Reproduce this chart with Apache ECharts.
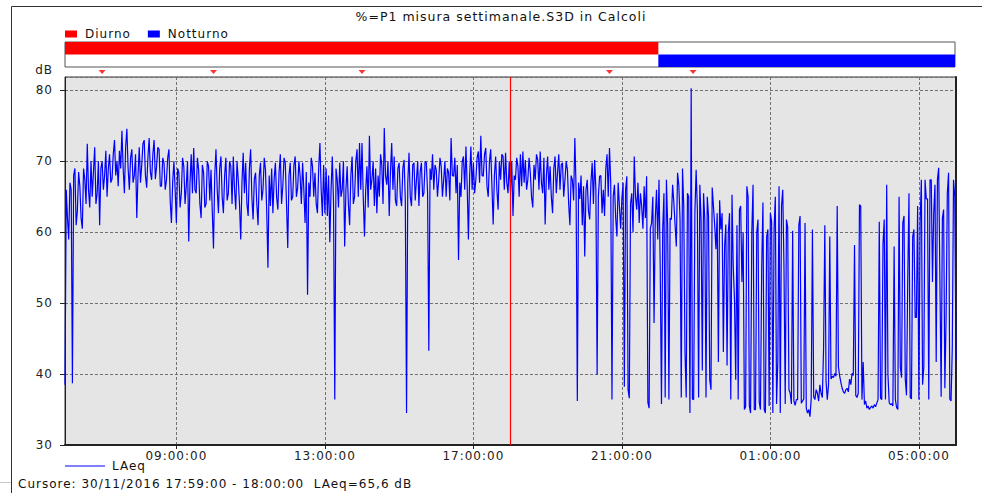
<!DOCTYPE html>
<html>
<head>
<meta charset="utf-8">
<title>P1 misura settimanale</title>
<script src="https://cdn.jsdelivr.net/npm/echarts@6/dist/echarts.min.js"></script>
<style>
  html, body { margin: 0; padding: 0; background: #fff; }
  #main { width: 982px; height: 493px; letter-spacing: 1px; }
</style>
</head>
<body>
<div id="main"></div>
<script>
// LAeq ogni 2 minuti, dalle 06:00 del 30/11 alle 06:00 del 01/12 (30 campioni per ora)
var h06 = [38.5, 66, 62, 59, 67, 66, 38.7, 68, 69, 61, 63, 68.5, 66.5, 62, 60.5, 69, 67.5, 64, 72.5, 66, 63.5, 70, 65, 68.5, 72, 64, 65.5, 70, 61, 69];
var h07 = [70, 66, 68, 71.5, 65, 69, 71, 67, 67.5, 71, 73, 68, 70, 66.5, 71.5, 69, 74.3, 69, 65.5, 72, 74.6, 69, 66, 70.5, 71.7, 67, 68, 71, 62, 68];
var h08 = [72, 67, 69.5, 72.5, 73, 68, 66.3, 70.5, 73.3, 68.5, 67.4, 71, 73, 67.5, 69.3, 72, 71.7, 66.5, 66.5, 70.5, 69.8, 66, 67.4, 70.5, 71.7, 64.5, 61.3, 67, 70, 66];
var h09 = [61.3, 69, 68.4, 63.5, 65.5, 70.5, 69.3, 64, 66.5, 70, 58.7, 67, 71, 65.5, 71.9, 66, 65.5, 70.5, 68.8, 64, 62, 69.5, 68.4, 63.5, 64, 70, 69.3, 64.5, 68.8, 63];
var h10 = [57.7, 68, 71.7, 66, 62.7, 69, 70.7, 65, 62.7, 68, 70.5, 64.5, 65.5, 70, 69.3, 64, 70.7, 66, 63.2, 70, 67.4, 64, 59, 67, 71.2, 65.5, 69.8, 64, 62.3, 69];
var h11 = [71.7, 65, 61.8, 67.5, 68.4, 64, 61, 68, 69.8, 64.5, 66, 70.5, 68.8, 63, 55, 68, 63.7, 69, 62.7, 67.5, 69.8, 65, 63.2, 68.5, 71, 64, 66.5, 70.5, 69.8, 64];
var h12 = [57.8, 68, 69.8, 64.5, 65, 69.5, 70.7, 65, 66.3, 70, 67.9, 64, 69.8, 66, 61.3, 68.5, 51.2, 67, 65, 70.5, 69.3, 65, 68.4, 64, 62.7, 69, 72.6, 66, 62.3, 69.5];
var h13 = [62.7, 69, 62.3, 68, 58.6, 66, 70.7, 64, 36.4, 69, 67.4, 63.5, 69.8, 65, 66, 70, 58, 66, 69.3, 64, 61, 68, 70.7, 64, 65, 70, 71.7, 65, 72.6, 66];
var h14 = [72.6, 65, 59.4, 66, 69.3, 63.5, 73.6, 66, 67.4, 70, 63.7, 69, 62.7, 68, 65, 71, 69.5, 64, 74.7, 68, 66.7, 70, 62.3, 68.5, 72.6, 66, 70.7, 64.5, 63.7, 69];
var h15 = [69.8, 65, 63.7, 69, 70.2, 64.5, 34.5, 67, 71.2, 65, 63.7, 69.5, 69.8, 64.5, 67.4, 70, 63.7, 68.5, 69.8, 65, 65.5, 70, 69.8, 65.5, 43.3, 69, 67.4, 71, 66, 69.5];
var h16 = [68.8, 65, 67.4, 70.5, 69.3, 65, 67.4, 70, 65, 69, 68.4, 64.5, 73.3, 68, 67.9, 70.5, 65.5, 69.5, 56.1, 67, 65, 70, 70.7, 66, 72.1, 66.5, 59, 68, 72.1, 66];
var h17 = [69.8, 65.5, 67.4, 70.5, 71.4, 67, 73.6, 68, 67.9, 71, 71.9, 66.5, 65, 70, 71.7, 66.5, 61.1, 68, 70.7, 66, 63.2, 70, 67.4, 71, 70.7, 66, 71.2, 67, 65.5, 70];
var h18 = [65.6, 70, 62.3, 68, 67.4, 70.5, 69.3, 65, 71, 66.5, 71.4, 67, 70.2, 66, 67.4, 70.5, 68.4, 65, 63.5, 69.5, 67.4, 71, 70.2, 66, 71.4, 67, 65.5, 70.5, 61.1, 68];
var h19 = [70.7, 66, 69.3, 65, 62.7, 69, 70.7, 65.5, 68.4, 71, 66, 69.5, 69.8, 65, 67.4, 70, 68.8, 64, 61, 68, 67.4, 64.5, 73.3, 66, 36.2, 67, 64.7, 68, 61, 66.5];
var h20 = [56.6, 66, 67.4, 63, 61.8, 67, 69.8, 64, 70.2, 66, 39.9, 65, 67.9, 68, 62.7, 66, 62.3, 69, 71, 65, 71.9, 67, 36.4, 65, 66.7, 62, 59.4, 67, 63.7, 60.5];
var h21 = [64.7, 67, 38.2, 66, 67.9, 37.8, 36.6, 64, 65.5, 60, 70.7, 65, 63.2, 67, 61.3, 65.5, 63.7, 60.5, 66.5, 62, 67.9, 36, 35.2, 60.5, 61.3, 65, 47.2, 62, 66, 59];
var h22 = [67.4, 54.7, 35.8, 60.4, 65.5, 36.7, 67.4, 61, 36.4, 62, 61.8, 66.7, 64.2, 61, 58, 68.4, 66.7, 61.8, 36.7, 69, 63.7, 43.1, 36.7, 65.5, 65, 34.5, 80.3, 36.5, 36.4, 62.7];
var h23 = [68.8, 63.2, 36.7, 66.7, 61.8, 40.5, 65.5, 61.8, 36.7, 65, 62.3, 39.2, 37.8, 66.3, 63.7, 61, 57.6, 62.7, 41.7, 64.5, 60.4, 62.7, 43.1, 58, 61.1, 41.2, 60, 62.7, 36.4, 65.3];
var h00 = [55.1, 50.5, 39.2, 61, 36.4, 63.2, 63.7, 53, 60, 35, 35.4, 66.5, 65, 35.5, 34.5, 60, 66.7, 35, 35, 60, 61.8, 36, 35, 55.1, 64.2, 35, 34.5, 59.4, 60.4, 35.5];
var h01 = [62.7, 61.5, 34.5, 60.5, 65, 35.8, 41.7, 66.5, 34.5, 63.7, 66, 55, 35.8, 61.8, 60.7, 37.8, 37.3, 35.8, 60.2, 36.2, 35.6, 36.4, 36.4, 61, 62.3, 35.9, 36.2, 36.5, 61.3, 35.2];
var h02 = [34.5, 35, 34, 36.5, 60.4, 36.8, 36.4, 37.8, 37.3, 36.2, 38.5, 37.3, 36.7, 43.7, 61, 39, 36.4, 38.5, 59.4, 39.3, 39.7, 39.5, 40.1, 39.7, 63.7, 41, 39.7, 38.8, 38, 37.5];
var h03 = [37.3, 37.8, 38, 37.5, 39.3, 38.5, 40.1, 39.8, 58.2, 37, 36.7, 37.3, 63.9, 63.7, 36.4, 41.7, 35.7, 36.2, 35.2, 35.5, 35, 35.3, 35.5, 35.2, 35.7, 35.4, 35.9, 36.4, 61.5, 36.6];
var h04 = [36.4, 58.3, 61.8, 36.4, 66.7, 40, 36, 35.7, 35.8, 35.5, 58, 36.4, 35.3, 35, 65, 41, 39.5, 61.3, 62.3, 39.3, 37, 53.3, 65.5, 36.7, 36.5, 59.4, 60.4, 48, 48, 63.7];
// l'ultimo valore e' quello delle 06:00 del 01/12
var h05 = [36.4, 61.3, 67.4, 38.5, 41, 67.4, 64.7, 64.7, 36.4, 67.4, 67.4, 53, 62.7, 66.7, 41.7, 67.4, 69.1, 53.3, 36.8, 62, 63.2, 38, 48, 65.5, 68.4, 36.5, 36.2, 43.7, 67.4, 65, 42];

var startHour = 6;
var stepMin = 2;

var tickHours = [9, 13, 17, 21, 25, 29];
var tickLabels = ['09:00:00', '13:00:00', '17:00:00', '21:00:00', '01:00:00', '05:00:00'];

var periodNames = ['Diurno', 'Notturno'];
var periodStart = [6, 22];
var periodEnd = [22, 30];

var markerHours = [7, 10, 14, 20 + 40 / 60, 22 + 55 / 60];

var cursorHour = 18;
var cursorText = 'Cursore: 30/11/2016 17:59:00 - 18:00:00  LAeq=65,6 dB';

// asse x in ore contate dalle 01:00 del 30/11: cosi' 09:00 -> 8 e le tacche ogni 4 ore cadono su 09, 13, 17...
function toX(hour) {
  return hour - 1;
}

function initChart(dom) {
  var chart = echarts.init(dom, null, { renderer: 'svg', width: 982, height: 493 });

  var laeq = [].concat(h06, h07, h08, h09, h10, h11, h12, h13, h14, h15, h16, h17,
    h18, h19, h20, h21, h22, h23, h00, h01, h02, h03, h04, h05);
  var points = laeq.map(function (v, i) {
    return [toX(startHour + i * stepMin / 60), v];
  });

  var font = 'DejaVu Sans';
  var gridColor = '#707070';

  function bandItem(params, api) {
    var p0 = api.coord([api.value(0), api.value(2)]);
    var p1 = api.coord([api.value(1), api.value(2)]);
    var h = api.size([0, 1])[1];
    return {
      type: 'rect',
      shape: { x: p0[0], y: p0[1] - h / 2, width: p1[0] - p0[0], height: h },
      style: { fill: api.visual('color') }
    };
  }

  var option = {
    animation: false,
    textStyle: { fontFamily: font, fontSize: 12, color: '#222' },
    title: {
      text: '%=P1 misura settimanale.S3D in Calcoli',
      left: 496,
      textAlign: 'center',
      top: 5,
      textStyle: { fontFamily: font, fontSize: 12.5, fontWeight: 'normal', color: '#111' }
    },
    legend: [
      {
        data: [{ name: periodNames[0], icon: 'rect' }, { name: periodNames[1], icon: 'rect' }],
        left: 65,
        top: 28,
        padding: 0,
        itemWidth: 12,
        itemHeight: 7,
        itemGap: 23,
        selectedMode: false,
        textStyle: { fontFamily: font, fontSize: 12, color: '#111', padding: [0, 0, 0, 3] }
      },
      {
        data: [{ name: 'LAeq', icon: 'rect', itemStyle: { color: '#7f7fff' } }],
        left: 65,
        top: 460,
        padding: 0,
        itemWidth: 40,
        itemHeight: 2,
        selectedMode: false,
        textStyle: { fontFamily: font, fontSize: 12, color: '#111', padding: [0, 0, 0, 2] }
      }
    ],
    grid: [
      { left: 65, right: 26, top: 77, bottom: 48, show: true, backgroundColor: '#e5e5e5', borderColor: '#333', borderWidth: 1 },
      { left: 65, right: 27, top: 42, height: 25, show: true, backgroundColor: '#fff', borderColor: '#555', borderWidth: 1 },
      { left: 65, right: 26, top: 68, height: 8 }
    ],
    xAxis: [
      {
        gridIndex: 0,
        type: 'value',
        min: toX(6),
        max: toX(30),
        minInterval: 4,
        maxInterval: 4,
        axisLine: { lineStyle: { color: '#222', width: 2 } },
        axisTick: { length: 4, lineStyle: { color: '#222' } },
        axisLabel: {
          margin: 5,
          color: '#222',
          showMinLabel: false,
          showMaxLabel: false,
          formatter: function (v) {
            var i = tickHours.indexOf(Math.round(v + 1));
            return i < 0 ? '' : tickLabels[i];
          }
        },
        splitLine: { show: true, lineStyle: { color: gridColor, type: [3, 2] } }
      },
      { gridIndex: 1, type: 'value', min: toX(6), max: toX(30), show: false },
      { gridIndex: 2, type: 'value', min: toX(6), max: toX(30), show: false }
    ],
    yAxis: [
      {
        gridIndex: 0,
        type: 'value',
        min: 30,
        max: 81.9,
        interval: 10,
        name: 'dB',
        nameLocation: 'end',
        nameGap: 1,
        nameTextStyle: { align: 'right', padding: [0, 12, 0, 0], color: '#222', fontFamily: font, fontSize: 12 },
        axisLine: { show: true, lineStyle: { color: '#222' } },
        axisTick: { show: true, length: 5, lineStyle: { color: '#222' } },
        axisLabel: { margin: 12, color: '#222', showMaxLabel: false },
        splitLine: { show: true, lineStyle: { color: gridColor, type: [3, 2] } }
      },
      {
        gridIndex: 0,
        type: 'value',
        position: 'right',
        min: 30,
        max: 81.9,
        axisLine: { show: true, lineStyle: { color: '#222', width: 2 } },
        axisTick: { show: false },
        axisLabel: { show: false },
        splitLine: { show: false }
      },
      { gridIndex: 1, type: 'category', data: periodNames, inverse: true, show: false },
      { gridIndex: 2, type: 'value', min: 0, max: 1, show: false }
    ],
    series: [
      {
        name: 'LAeq',
        type: 'line',
        xAxisIndex: 0,
        yAxisIndex: 0,
        data: points,
        showSymbol: false,
        symbol: 'none',
        lineStyle: { color: '#0000ff', width: 1.2 },
        itemStyle: { color: '#0000ff' },
        markLine: {
          silent: true,
          symbol: ['none', 'none'],
          label: { show: false },
          lineStyle: { color: '#ff0000', width: 1.2, type: 'solid' },
          data: [{ xAxis: toX(cursorHour) }]
        }
      },
      {
        name: periodNames[0],
        type: 'custom',
        xAxisIndex: 1,
        yAxisIndex: 2,
        itemStyle: { color: '#ff0000' },
        encode: { x: [0, 1], y: 2 },
        renderItem: bandItem,
        data: [[toX(periodStart[0]), toX(periodEnd[0]), 0]]
      },
      {
        name: periodNames[1],
        type: 'custom',
        xAxisIndex: 1,
        yAxisIndex: 2,
        itemStyle: { color: '#0000ff' },
        encode: { x: [0, 1], y: 2 },
        renderItem: bandItem,
        data: [[toX(periodStart[1]), toX(periodEnd[1]), 1]]
      },
      {
        name: 'eventi',
        type: 'scatter',
        xAxisIndex: 2,
        yAxisIndex: 3,
        symbol: 'triangle',
        symbolRotate: 180,
        symbolSize: [7, 4],
        itemStyle: { color: '#ff0000' },
        silent: true,
        data: markerHours.map(function (h) { return [toX(h), 0.5]; })
      }
    ],
    graphic: [
      {
        type: 'polyline',
        silent: true,
        shape: { points: [[11.5, 493], [11.5, 6.5], [982, 6.5]] },
        style: { stroke: '#333', lineWidth: 1, fill: null }
      },
      {
        type: 'line',
        silent: true,
        shape: { x1: 0, y1: 482.5, x2: 11, y2: 482.5 },
        style: { stroke: '#c8c8c8', lineWidth: 1 }
      },
      {
        type: 'text',
        left: 18,
        top: 478,
        silent: true,
        style: { text: cursorText, fontFamily: font, fontSize: 12, fill: '#111' }
      }
    ]
  };

  chart.setOption(option);
  return chart;
}

initChart(document.getElementById('main'));
</script>
</body>
</html>
